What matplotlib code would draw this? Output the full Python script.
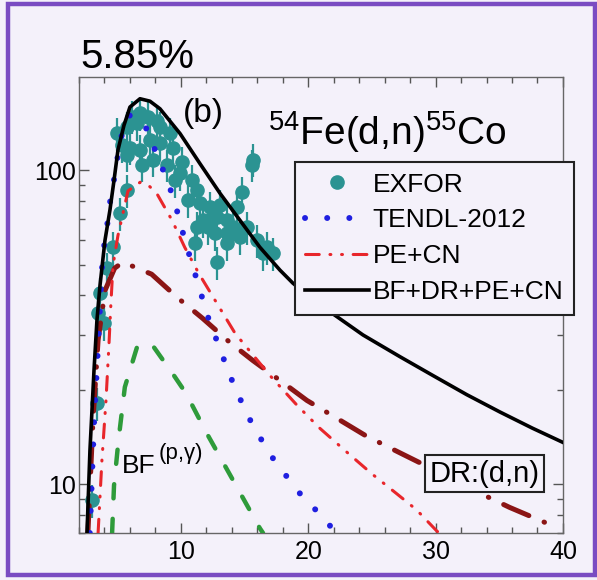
import matplotlib
matplotlib.use("Agg")
import matplotlib.pyplot as plt
from matplotlib.ticker import LogLocator, FixedLocator, NullFormatter, FuncFormatter, MultipleLocator
from matplotlib.patches import Rectangle

plt.rcParams['font.family'] = ['Liberation Sans', 'DejaVu Sans']
plt.rcParams['mathtext.fontset'] = 'custom'
plt.rcParams['mathtext.rm'] = 'Liberation Sans'
plt.rcParams['mathtext.it'] = 'Liberation Sans:italic'

# ---------------- data ----------------
exfor_x = [6.16, 6.79, 7.42, 8.12, 6.55, 5.77, 4.98, 5.38, 6.00, 6.79, 8.36, 9.14, 8.36, 7.57,
           9.38, 7.81, 6.95, 5.77, 8.91, 10.08, 9.93, 9.54, 10.87, 11.26, 10.56, 11.50, 12.28,
           13.07, 12.83, 11.73, 12.13, 13.62, 14.09, 13.62, 12.68, 15.19, 14.64, 15.66, 15.58,
           14.79, 14.40, 11.26, 11.10, 12.83, 13.62, 15.97, 16.76, 17.23, 16.44, 5.77, 5.22,
           4.67, 4.20, 3.65, 3.49, 3.96, 3.41, 3.02]
exfor_y = [148, 152, 148, 144, 141, 137, 131, 120, 118, 116, 137, 131, 122, 125,
           118, 108, 104, 112, 104, 106, 97.8, 92.9, 92.9, 86.4, 80.2, 78.5, 76.3,
           77.4, 70.8, 69.3, 65.8, 69.3, 65.8, 63.0, 63.0, 65.8, 61.2, 108, 104,
           85.1, 76.3, 65.8, 58.6, 51.0, 58.6, 59.8, 56.9, 54.5, 54.5, 86.4, 73.0,
           56.9, 48.7, 40.6, 35.1, 32.6, 18.1, 8.9]
exfor_rel_err = 0.12

tendl_x = [2.85, 3.18, 3.41, 3.65, 3.80, 3.88, 4.20, 4.28, 4.59, 5.06, 5.38, 6.00, 7.18, 8.36,
           8.99, 9.54, 10.32, 11.26, 12.13, 13.85, 15.19, 16.91, 19.19, 21.62, 22.0]
tendl_y = [7.0, 15.6, 23.6, 36.4, 48.0, 54.8, 64.4, 73.5, 85.1, 112, 131, 150, 139, 106,
           91.6, 78.5, 59.8, 44.7, 34.1, 22.2, 16.7, 12.6, 9.5, 7.5, 7.0]

pecn_x = [3.5, 3.8, 4.12, 4.35, 4.5, 4.67, 5.06, 5.85, 6.8, 7.4, 8.1, 9.3, 10.3, 11.4, 14.25,
          15.3, 17.0, 19.1, 20.9, 22.9, 25.0, 27.0, 28.5, 30.1, 30.3]
pecn_y = [7.0, 11.9, 18.5, 27.7, 37.2, 49.8, 62, 86, 91.6, 90, 84.5, 69.4, 56.9, 47.0, 30.3,
          26.9, 22.2, 17.9, 15.1, 12.8, 10.8, 9.3, 8.3, 7.1, 7.0]

total_x = [2.63, 2.86, 3.18, 3.41, 3.65, 4.04, 4.43, 4.75, 5.06, 5.53, 6.0, 6.79, 7.57, 8.36,
           9.93, 11.5, 13.07, 14.64, 16.2, 17.78, 18.8, 20.3, 21.9, 24.3, 27.2, 29.8, 32.45,
           35.05, 37.6, 40.0]
total_y = [7.0, 12.8, 23.1, 33.3, 43.0, 59.8, 74.7, 92.9, 116, 139, 159, 169, 166, 157,
           131, 105, 84.5, 69.3, 56.9, 48.1, 43.7, 39.0, 35.0, 29.9, 25.5, 22.2, 19.3,
           17.0, 15.1, 13.6]

dr_x = [2.7, 3.1, 3.5, 4.05, 4.8, 5.45, 7.7, 9.8, 11.7, 13.85, 15.65, 17.8, 19.9, 21.85,
        24.5, 27.2, 28.8, 33.9, 35.8, 38.8]
dr_y = [7.0, 16, 28.8, 41.5, 48.8, 51, 46.7, 39.1, 33.8, 28.3, 24.8, 21.4, 18.5, 16.6,
        14.3, 12.6, 11.7, 9.2, 8.45, 7.5]

bf_x = [4.6, 4.75, 5.1, 5.6, 6.55, 7.26, 7.89, 9.46, 10.4, 12.05, 14.1, 16.2, 16.45]
bf_y = [7.0, 9.9, 13.8, 20.4, 27.3, 28.3, 27.3, 22.2, 19.5, 14.5, 10.3, 7.25, 7.0]

x_ticks = [10, 20, 30, 40]
y_ticks = [10, 100]

# ---------------- figure ----------------
bg = '#f4f1fa'
fig = plt.figure(figsize=(5.97, 5.80), dpi=100, facecolor=bg)
ax = fig.add_axes([0.1323, 0.081, 0.8107, 0.786], facecolor=bg)

teal = '#2b9392'
yerr = [v * exfor_rel_err for v in exfor_y]
ax.errorbar(exfor_x, exfor_y, yerr=yerr, fmt='none', ecolor=teal, elinewidth=1.6, zorder=2)
h_exfor, = ax.plot(exfor_x, exfor_y, 'o', color=teal, ms=9.5, mec=teal, zorder=2, label='EXFOR')

h_bf, = ax.plot(bf_x, bf_y, color='#2e9b3a', lw=3.2, linestyle=(0, (3.2, 4.6)),
                dash_capstyle='round', zorder=3)
h_dr, = ax.plot(dr_x, dr_y, color='#8b1515', lw=3.6, linestyle=(0, (5.5, 3.3, 0.1, 3.3)),
                dash_capstyle='round', zorder=3)
h_pecn, = ax.plot(pecn_x, pecn_y, color='#e8262b', lw=2.2,
                  linestyle=(0, (4.5, 3.5, 0.3, 3.5, 0.3, 3.5)), dash_capstyle='round',
                  zorder=3, label='PE+CN')
h_tendl, = ax.plot(tendl_x, tendl_y, color='#1f1fe0', lw=4.3, linestyle=(0, (0.01, 3.7)),
                   dash_capstyle='round', zorder=4, label='TENDL-2012')
h_tot, = ax.plot(total_x, total_y, color='black', lw=2.6, zorder=5, label='BF+DR+PE+CN')

ax.set_yscale('log')
ax.set_xlim(2, 40)
ax.set_ylim(7.0, 198)

ax.xaxis.set_major_locator(FixedLocator(x_ticks))
ax.xaxis.set_minor_locator(MultipleLocator(2))
ax.yaxis.set_major_locator(FixedLocator(y_ticks))
ax.yaxis.set_minor_locator(LogLocator(base=10, subs=range(2, 10)))
ax.yaxis.set_major_formatter(FuncFormatter(lambda v, p: f'{int(v)}'))
ax.yaxis.set_minor_formatter(NullFormatter())

ax.tick_params(axis='both', which='both', direction='in', top=True, right=True,
               colors='#555555', labelcolor='black', labelsize=18)
ax.tick_params(axis='both', which='major', length=7, width=1)
ax.tick_params(axis='both', which='minor', length=4, width=1)
ax.tick_params(axis='x', pad=5)
ax.tick_params(axis='y', pad=2)
for s in ax.spines.values():
    s.set_color('#666666')
    s.set_linewidth(1.0)

leg = ax.legend(handles=[h_exfor, h_tendl, h_pecn, h_tot], loc='upper left',
                bbox_to_anchor=(0.494, 0.7207), bbox_transform=fig.transFigure,
                borderaxespad=0, fontsize=19, frameon=True, fancybox=False,
                framealpha=1, facecolor=bg, edgecolor='#222222', numpoints=1,
                handlelength=2.4, handletextpad=0.15, labelspacing=0.45, borderpad=0.4)
leg.get_frame().set_linewidth(1.5)
leg.set_zorder(10)

# texts
fig.text(0.134, 0.883, '5.85%', fontsize=29, va='baseline', ha='left')
fig.text(0.307, 0.790, '(b)', fontsize=24, va='baseline', ha='left')
fig.text(0.449, 0.750, r'$^{\mathrm{54}}$Fe(d,n)$^{\mathrm{55}}$Co', fontsize=28,
         va='baseline', ha='left')
fig.text(0.204, 0.184, 'BF', fontsize=19, va='baseline', ha='left')
fig.text(0.266, 0.209, '(p,γ)', fontsize=16, va='baseline', ha='left')
fig.text(0.812, 0.183, 'DR:(d,n)', fontsize=21, va='center', ha='center',
         bbox=dict(boxstyle='square,pad=0.15', fc=bg, ec='#222222', lw=1.5), zorder=10)

# purple frame
fig.patches.append(Rectangle((0.0135, 0.0086), 0.9825, 0.984, transform=fig.transFigure,
                             fill=False, ec='#7a4cc2', lw=3.2))

fig.savefig('out.png', dpi=100, facecolor=bg)
